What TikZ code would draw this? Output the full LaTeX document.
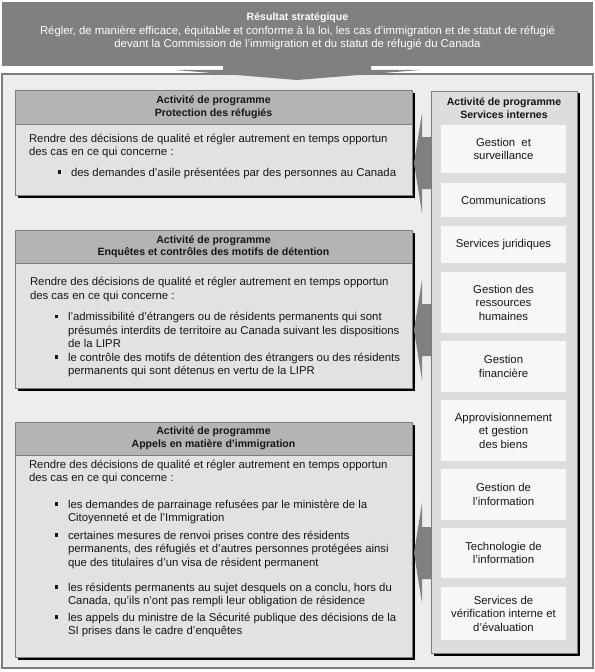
\documentclass[tikz,border=0pt]{standalone}
\usepackage{fontspec}
\setmainfont{Liberation Sans}
\usetikzlibrary{shadows}
\definecolor{bannerc}{RGB}{128,128,128}
\definecolor{outerc}{RGB}{237,237,237}
\definecolor{framec}{RGB}{125,125,125}
\definecolor{headc}{RGB}{180,180,180}
\definecolor{bodyc}{RGB}{226,226,226}
\definecolor{colc}{RGB}{221,221,221}
\definecolor{cellc}{RGB}{247,247,247}
\definecolor{arrowc}{RGB}{128,128,128}
\definecolor{textc}{RGB}{22,22,22}
\newcommand\bulmark{\makebox[13bp][l]{\rule[2.4bp]{3.2bp}{3.2bp}}}
\newcommand\bulind{\hspace*{13bp}}
\newcommand\topstrut{\rule{0pt}{10bp}}
\newcommand\blockarrow[1]{\fill[arrowc] (431,#1-26) -- (422,#1-26) -- (422,#1-50) -- (414,#1) -- (422,#1+50) -- (422,#1+26) -- (431,#1+26) -- cycle;}
\begin{document}
\begin{tikzpicture}[x=1bp,y=-1bp,
  every node/.style={inner sep=0pt, outer sep=0pt, text=textc},
  reg/.style={font=\fontsize{11.4}{13.6}\selectfont},
  bld/.style={font=\fontsize{10.6}{12.6}\selectfont\bfseries},
  para/.style={reg, align=left, anchor=north west},
  boxbody/.style={draw=framec, line width=0.8bp, fill=bodyc, anchor=north west,
    drop shadow={shadow xshift=3bp, shadow yshift=-3bp, opacity=1, fill=black}},
  boxhead/.style={draw=framec, line width=0.8bp, fill=headc, anchor=north west, bld, align=center},
  cell/.style={fill=cellc, anchor=north west, minimum width=125bp, reg, align=center}
]
\useasboundingbox (0,0) rectangle (595,672);
\fill[white] (0,0) rectangle (595,672);

% banner
\node[fill=bannerc, anchor=north west, minimum width=591bp, minimum height=64bp] (banner) at (2,2) {};
\node[reg, align=center, text=white] (bantext) at (297.5,31.5)
  {{\fontsize{10.6}{13.6}\selectfont\bfseries Résultat stratégique}\\
   Régler, de manière efficace, équitable et conforme à la loi, les cas d'immigration et de statut de réfugié\\
   devant la Commission de l’immigration et du statut de réfugié du Canada};

% outer container
\node[draw=framec, line width=1.5bp, fill=outerc, anchor=north west, minimum width=591bp, minimum height=594bp] (outer) at (2,74) {};

% downward arrow
\fill[bannerc] (223,66) -- (371,66) -- (371,70) -- (420,70) -- (297,80) -- (175,70) -- (223,70) -- cycle;

% box 1
\node[boxbody, minimum width=397bp, minimum height=105bp] (b1) at (15,90) {};
\node[boxhead, minimum width=397bp, minimum height=34bp] (h1) at (15,90) {Activité de programme\\Protection des réfugiés};
\node[para] (t1) at (29,132) {\topstrut Rendre des décisions de qualité et régler autrement en temps opportun\\des cas en ce qui concerne :};
\node[para] (t1a) at (58,166) {\topstrut\bulmark des demandes d’asile présentées par des personnes au Canada};

% box 2
\node[boxbody, minimum width=397bp, minimum height=158bp] (b2) at (15,230) {};
\node[boxhead, minimum width=397bp, minimum height=33bp] (h2) at (15,230) {Activité de programme\\Enquêtes et contrôles des motifs de détention};
\node[para] (t2) at (30,275.5) {\topstrut Rendre des décisions de qualité et régler autrement en temps opportun\\des cas en ce qui concerne :};
\node[para] (t2a) at (55,310.5) {\topstrut\bulmark l'admissibilité d'étrangers ou de résidents permanents qui sont\\
  \bulind présumés interdits de territoire au Canada suivant les dispositions\\
  \bulind de la LIPR};
\node[para] (t2b) at (55,351) {\topstrut\bulmark le contrôle des motifs de détention des étrangers ou des résidents\\
  \bulind permanents qui sont détenus en vertu de la LIPR};

% box 3
\node[boxbody, minimum width=397bp, minimum height=235bp] (b3) at (15,422) {};
\node[boxhead, minimum width=397bp, minimum height=33bp] (h3) at (15,422) {Activité de programme\\Appels en matière d’immigration};
\node[para] (t3) at (29,458) {\topstrut Rendre des décisions de qualité et régler autrement en temps opportun\\des cas en ce qui concerne :};
\node[para] (t3a) at (55,498) {\topstrut\bulmark les demandes de parrainage refusées par le ministère de la\\
  \bulind Citoyenneté et de l’Immigration};
\node[para] (t3b) at (55,529) {\topstrut\bulmark certaines mesures de renvoi prises contre des résidents\\
  \bulind permanents, des réfugiés et d'autres personnes protégées ainsi\\
  \bulind que des titulaires d'un visa de résident permanent};
\node[para] (t3c) at (55,581) {\topstrut\bulmark les résidents permanents au sujet desquels on a conclu, hors du\\
  \bulind Canada, qu'ils n'ont pas rempli leur obligation de résidence};
\node[para] (t3d) at (55,611) {\topstrut\bulmark les appels du ministre de la Sécurité publique des décisions de la\\
  \bulind SI prises dans le cadre d'enquêtes};

% right column
\node[boxbody, fill=colc, minimum width=146bp, minimum height=562bp,
  drop shadow={shadow xshift=2.5bp, shadow yshift=-2.5bp, opacity=1, fill=black}] (rc) at (431,91) {};
\node[bld, align=center] (rch) at (504,108) {Activité de programme\\Services internes};
\node[cell, minimum height=48bp] (c1) at (441,125) {Gestion\ \ et\\surveillance};
\node[cell, minimum height=34bp] (c2) at (441,183) {Communications};
\node[cell, minimum height=37bp] (c3) at (441,226) {Services juridiques};
\node[cell, minimum height=61bp] (c4) at (441,272) {Gestion des\\ressources\\humaines};
\node[cell, minimum height=51bp] (c5) at (441,341) {Gestion\\financière};
\node[cell, minimum height=61bp] (c6) at (441,400) {Approvisionnement\\et gestion\\des biens};
\node[cell, minimum height=51bp] (c7) at (441,469) {Gestion de\\l'information};
\node[cell, minimum height=50bp] (c8) at (441,528) {Technologie de\\l'information};
\node[cell, minimum height=53bp] (c9) at (441,587) {Services de\\vérification interne et\\d'évaluation};

% block arrows from internal services to program activities
\blockarrow{163}
\blockarrow{330}
\blockarrow{553}
\end{tikzpicture}
\end{document}
